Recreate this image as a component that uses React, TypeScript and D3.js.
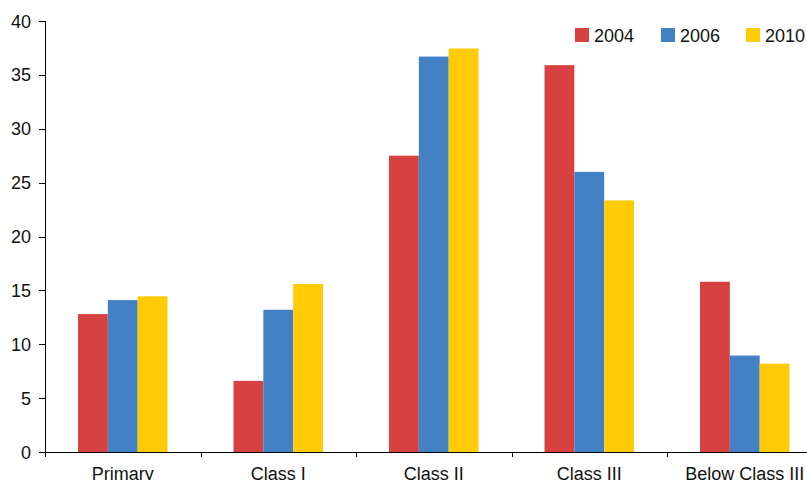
import React from "react";
import * as d3 from "d3";

const categories = ["Primary", "Class I", "Class II", "Class III", "Below Class III"];
const seriesNames = ["2004", "2006", "2010"];
const values2004 = [12.8, 6.6, 27.5, 35.9, 15.8];
const values2006 = [14.1, 13.2, 36.7, 26.0, 8.95];
const values2010 = [14.45, 15.6, 37.45, 23.35, 8.2];
const colors = ["#D74141", "#4282C4", "#FFCB05"];
const yTicks = [0, 5, 10, 15, 20, 25, 30, 35, 40];

const W = 807;
const H = 480;
const left = 45;
const bandStep = 155.5;
const y0 = 452;
const yTop = 21;

export default function App() {
  const series = [values2004, values2006, values2010];
  const x = d3
    .scaleBand<string>()
    .domain(categories)
    .range([left, left + bandStep * categories.length])
    .paddingInner(0)
    .paddingOuter(0);
  const inner = d3.scaleBand<string>().domain(seriesNames).range([33, 155.5 - 33]);
  const y = d3.scaleLinear().domain([0, 40]).range([y0, yTop]);
  const font = "'Liberation Sans', Arial, sans-serif";
  const fs = 18;
  const tickPositions = categories.map((c) => x(c) as number).concat([left + bandStep * categories.length]);

  return (
    <svg
      width={W}
      height={H}
      style={{ position: "absolute", left: 0, top: 0, background: "#fff" }}
      fontFamily={font}
    >
      {series.map((vals, si) =>
        categories.map((c, ci) => (
          <rect
            key={`${si}-${ci}`}
            x={(x(c) as number) + (inner(seriesNames[si]) as number)}
            y={y(vals[ci])}
            width={inner.bandwidth()}
            height={y0 - y(vals[ci])}
            fill={colors[si]}
          />
        ))
      )}
      {/* y axis */}
      <line x1={left + 0.5} x2={left + 0.5} y1={y(40)} y2={y0 + 5} stroke="#000" strokeWidth={1} />
      {yTicks.map((t) => (
        <g key={t}>
          <line x1={left - 6} x2={left} y1={Math.round(y(t)) + 0.5} y2={Math.round(y(t)) + 0.5} stroke="#000" />
          <text x={left - 14} y={y(t) + 6.5} textAnchor="end" fontSize={fs} fill="#111">
            {t}
          </text>
        </g>
      ))}
      {/* x axis */}
      <line x1={left} x2={W} y1={y0 + 0.5} y2={y0 + 0.5} stroke="#000" />
      {tickPositions.map((p, i) => (
        <line key={i} x1={Math.round(p) + 0.5} x2={Math.round(p) + 0.5} y1={y0} y2={y0 + 5} stroke="#000" />
      ))}
      {categories.map((c) => (
        <text
          key={c}
          x={(x(c) as number) + bandStep / 2}
          y={480}
          textAnchor="middle"
          fontSize={fs}
          fill="#111"
        >
          {c}
        </text>
      ))}
      {/* legend */}
      {seriesNames.map((s, i) => {
        const lx = [575, 661, 746][i];
        return (
          <g key={s}>
            <rect x={lx} y={28} width={14} height={14} fill={colors[i]} />
            <text x={lx + 19} y={42} fontSize={fs} fill="#111">
              {s}
            </text>
          </g>
        );
      })}
    </svg>
  );
}
